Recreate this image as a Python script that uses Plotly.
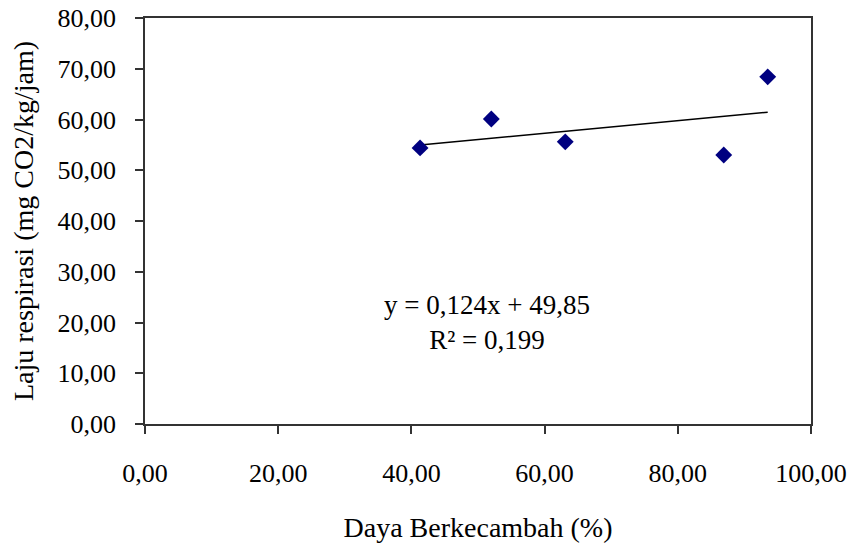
import plotly.graph_objects as go

daya_berkecambah = [41.3, 52.0, 63.1, 86.9, 93.5]
laju_respirasi = [54.4, 60.1, 55.6, 53.0, 68.4]

slope = 0.124
intercept = 49.85
equation_text = "y = 0,124x + 49,85<br>R² = 0,199"

x_ticks = [0, 20, 40, 60, 80, 100]
x_ticklabels = ["0,00", "20,00", "40,00", "60,00", "80,00", "100,00"]
y_ticks = [0, 10, 20, 30, 40, 50, 60, 70, 80]
y_ticklabels = ["0,00", "10,00", "20,00", "30,00", "40,00", "50,00", "60,00", "70,00", "80,00"]

xmin, xmax = min(daya_berkecambah), max(daya_berkecambah)
trend_x = [xmin, xmax]
trend_y = [slope * v + intercept for v in trend_x]

font_family = "Liberation Serif"

fig = go.Figure()
fig.add_trace(go.Scatter(x=trend_x, y=trend_y, mode="lines",
                         line=dict(color="black", width=1.5), showlegend=False,
                         hoverinfo="skip"))
fig.add_trace(go.Scatter(x=daya_berkecambah, y=laju_respirasi, mode="markers",
                         marker=dict(symbol="diamond", size=13, color="#000080"),
                         showlegend=False))

fig.add_annotation(x=51.3, y=20, xref="x", yref="y", text=equation_text,
                   showarrow=False, align="center",
                   font=dict(family=font_family, size=27, color="black"))

axis_common = dict(showline=True, linecolor="#333333", linewidth=1.5, mirror=True,
                   ticks="outside", ticklen=8, tickwidth=1.5, tickcolor="#333333",
                   showgrid=False, zeroline=False, automargin=False,
                   tickfont=dict(family=font_family, size=26, color="black"))

fig.update_xaxes(range=[0, 100], tickvals=x_ticks, ticktext=x_ticklabels,
                 ticklabelstandoff=17,
                 title=dict(text="Daya Berkecambah (%)", standoff=36,
                            font=dict(family=font_family, size=28, color="black")),
                 **axis_common)
fig.update_yaxes(range=[0, 80], tickvals=y_ticks, ticktext=y_ticklabels,
                 ticklabelstandoff=14,
                 title=dict(text="Laju respirasi (mg CO2/kg/jam)", standoff=16,
                            font=dict(family=font_family, size=28, color="black")),
                 **axis_common)

fig.update_layout(width=851, height=543,
                  margin=dict(l=145, r=40, t=18, b=119),
                  plot_bgcolor="white", paper_bgcolor="white")

fig.write_html("out.html", config={"displayModeBar": False},
               post_script="document.body.style.margin='0';document.body.style.overflow='hidden';")
